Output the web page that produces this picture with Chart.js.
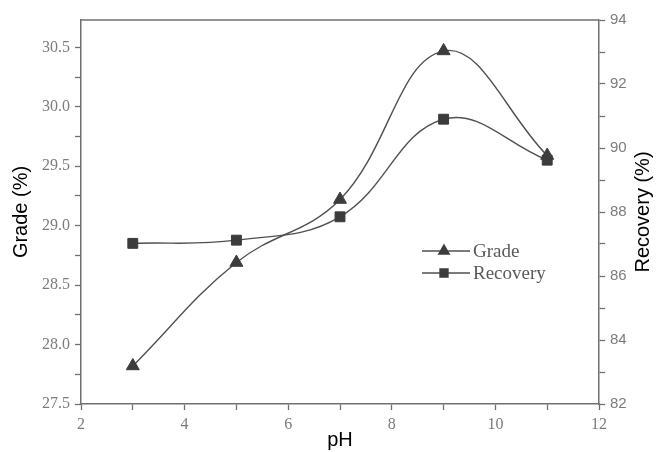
<!DOCTYPE html>
<html>
<head>
<meta charset="utf-8">
<script src="https://cdn.jsdelivr.net/npm/chart.js@4/dist/chart.umd.min.js"></script>
<style>
  html, body { margin: 0; padding: 0; background: #ffffff; }
  canvas { display: block; }
</style>
</head>
<body>
<canvas id="phChart" width="656" height="452"></canvas>
<script>
// Data
const phValues = [3, 5, 7, 9, 11];
const gradeValues = [27.82, 28.69, 29.22, 30.47, 29.59];
const recoveryValues = [87.02, 87.12, 87.85, 90.90, 89.62];

// Tick positions and labels
const phTicks = [2, 3, 4, 5, 6, 7, 8, 9, 10, 11, 12];
const phTickLabels = ['2', '', '4', '', '6', '', '8', '', '10', '', '12'];
const gradeTicks = [27.5, 27.75, 28.0, 28.25, 28.5, 28.75, 29.0, 29.25, 29.5, 29.75, 30.0, 30.25, 30.5];
const gradeTickLabels = ['27.5', '', '28.0', '', '28.5', '', '29.0', '', '29.5', '', '30.0', '', '30.5'];
const recoveryTicks = [82, 83, 84, 85, 86, 87, 88, 89, 90, 91, 92, 93, 94];
const recoveryTickLabels = ['82', '', '84', '', '86', '', '88', '', '90', '', '92', '', '94'];

const axisGray = '#707070';
const tickGray = '#7c7c7c';
const lineGray = '#505050';
const markGray = '#3c3c3c';

// top edge of the frame
const framePlugin = {
    id: 'frame',
    afterDraw(chart) {
        const a = chart.chartArea;
        const ctx = chart.ctx;
        ctx.save();
        ctx.strokeStyle = axisGray;
        ctx.lineWidth = 1.5;
        ctx.beginPath();
        ctx.moveTo(a.left, a.top);
        ctx.lineTo(a.right, a.top);
        ctx.stroke();
        ctx.restore();
    }
};

// axis titles (right one reads bottom-to-top like the left one)
const titlePlugin = {
    id: 'axisTitles',
    afterDraw(chart) {
        const a = chart.chartArea;
        const ctx = chart.ctx;
        const midY = (a.top + a.bottom) / 2;
        ctx.save();
        ctx.fillStyle = '#000000';
        ctx.font = '20px "Liberation Sans", Arial, sans-serif';
        ctx.textAlign = 'center';
        ctx.textBaseline = 'middle';
        ctx.fillText('pH', (a.left + a.right) / 2, 440);

        ctx.save();
        ctx.translate(21, midY);
        ctx.rotate(-Math.PI / 2);
        ctx.fillText('Grade (%)', 0, 0);
        ctx.restore();

        ctx.save();
        ctx.translate(643, midY);
        ctx.rotate(-Math.PI / 2);
        ctx.fillText('Recovery (%)', 0, 0);
        ctx.restore();
        ctx.restore();
    }
};

// legend drawn inside the plot
const insideLegend = {
    id: 'insideLegend',
    afterDatasetsDraw(chart) {
        const ctx = chart.ctx;
        const a = chart.chartArea;
        const x0 = a.left + 341;
        chart.data.datasets.forEach(function(ds, i) {
            const y = 251 + i * 22;
            ctx.save();
            ctx.strokeStyle = ds.borderColor;
            ctx.lineWidth = ds.borderWidth;
            ctx.beginPath();
            ctx.moveTo(x0, y);
            ctx.lineTo(x0 + 48, y);
            ctx.stroke();
            ctx.fillStyle = ds.pointBackgroundColor;
            ctx.strokeStyle = ds.pointBorderColor;
            Chart.helpers.drawPoint(ctx, {
                pointStyle: ds.pointStyle,
                radius: ds.pointRadius * 0.8,
                rotation: 0,
                borderWidth: 1
            }, x0 + 22, y);
            ctx.fillStyle = '#5a5a5a';
            ctx.font = '19px "Liberation Serif", "Times New Roman", serif';
            ctx.textAlign = 'left';
            ctx.textBaseline = 'middle';
            ctx.fillText(ds.label, x0 + 51, y + 1);
            ctx.restore();
        });
    }
};

function makeTicks(values) {
    return function(scale) {
        scale.ticks = values.map(v => ({ value: v }));
    };
}

const serifTick = { family: '"Liberation Serif", "Times New Roman", serif', size: 16 };
const sansTick = { family: '"Liberation Sans", Arial, sans-serif', size: 15 };

const ctx = document.getElementById('phChart').getContext('2d');
new Chart(ctx, {
    type: 'line',
    data: {
        datasets: [
            {
                label: 'Grade',
                data: phValues.map((x, i) => ({ x: x, y: gradeValues[i] })),
                yAxisID: 'y',
                borderColor: lineGray,
                borderWidth: 1.4,
                tension: 0.4,
                pointStyle: 'triangle',
                pointRadius: 7.5,
                pointBackgroundColor: markGray,
                pointBorderColor: markGray,
                pointBorderWidth: 1,
                fill: false
            },
            {
                label: 'Recovery',
                data: phValues.map((x, i) => ({ x: x, y: recoveryValues[i] })),
                yAxisID: 'y1',
                borderColor: lineGray,
                borderWidth: 1.4,
                tension: 0.4,
                pointStyle: 'rect',
                pointRadius: 7,
                pointBackgroundColor: markGray,
                pointBorderColor: markGray,
                pointBorderWidth: 1,
                fill: false
            }
        ]
    },
    options: {
        responsive: false,
        animation: false,
        layout: { padding: { top: 20, left: 0, right: 0, bottom: 0 } },
        plugins: {
            legend: { display: false },
            tooltip: { enabled: false }
        },
        scales: {
            x: {
                type: 'linear',
                min: 2,
                max: 12,
                afterBuildTicks: makeTicks(phTicks),
                afterFit: s => { s.height = 48; },
                ticks: {
                    autoSkip: false,
                    maxRotation: 0,
                    padding: 5,
                    color: tickGray,
                    font: serifTick,
                    callback: (v, i) => phTickLabels[i]
                },
                grid: { drawOnChartArea: false, drawTicks: true, tickLength: 6, tickColor: axisGray, tickWidth: 1.3 },
                border: { color: axisGray, width: 1.5 }
            },
            y: {
                position: 'left',
                min: 27.5,
                max: 30.73,
                afterBuildTicks: makeTicks(gradeTicks),
                afterFit: s => { s.width = 81; },
                ticks: {
                    autoSkip: false,
                    padding: 5,
                    color: tickGray,
                    font: serifTick,
                    callback: (v, i) => gradeTickLabels[i]
                },
                grid: { drawOnChartArea: false, drawTicks: true, tickLength: 6, tickColor: axisGray, tickWidth: 1.3 },
                border: { color: axisGray, width: 1.5 }
            },
            y1: {
                position: 'right',
                min: 82,
                max: 94,
                afterBuildTicks: makeTicks(recoveryTicks),
                afterFit: s => { s.width = 57; },
                ticks: {
                    autoSkip: false,
                    padding: 5,
                    color: tickGray,
                    font: sansTick,
                    callback: (v, i) => recoveryTickLabels[i]
                },
                grid: { drawOnChartArea: false, drawTicks: true, tickLength: 6, tickColor: axisGray, tickWidth: 1.3 },
                border: { color: axisGray, width: 1.5 }
            }
        }
    },
    plugins: [framePlugin, titlePlugin, insideLegend]
});
</script>
</body>
</html>
